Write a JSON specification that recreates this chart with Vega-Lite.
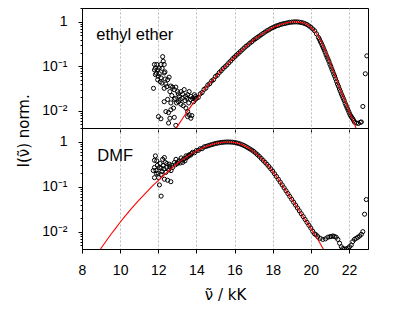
{
  "$schema": "https://vega.github.io/schema/vega-lite/v6.json",
  "padding": {"left": 15, "top": 0, "right": 5, "bottom": 5},
  "bounds": "flush",
  "spacing": 0,
  "config": {
    "view": {"stroke": "black", "strokeWidth": 1},
    "font": "Liberation Sans",
    "axis": {
      "domainColor": "black", "tickColor": "black", "labelColor": "black", "titleColor": "black",
      "labelFont": "Liberation Sans", "labelFontSize": 14, "titleFont": "DejaVu Sans",
      "titleFontSize": 15, "titleFontWeight": "normal",
      "gridColor": "#aaaaaa", "gridDash": [2, 2], "gridWidth": 0.8, "labelFlush": false
    }
  },
  "datasets": {
    "ether_pts": [
      {"nu": 11.75, "I": 0.032}, {"nu": 11.8, "I": 0.11}, {"nu": 11.85, "I": 0.091}, {"nu": 11.92, "I": 0.11},
      {"nu": 11.8, "I": 0.083}, {"nu": 11.97, "I": 0.083}, {"nu": 11.85, "I": 0.065}, {"nu": 12.05, "I": 0.091},
      {"nu": 12.14, "I": 0.11}, {"nu": 12.23, "I": 0.165}, {"nu": 12.26, "I": 0.13}, {"nu": 12.31, "I": 0.11},
      {"nu": 12.05, "I": 0.068}, {"nu": 12.14, "I": 0.055}, {"nu": 12.31, "I": 0.071}, {"nu": 11.97, "I": 0.05},
      {"nu": 12.19, "I": 0.042}, {"nu": 12.36, "I": 0.052}, {"nu": 12.49, "I": 0.05}, {"nu": 12.57, "I": 0.057},
      {"nu": 12.45, "I": 0.035}, {"nu": 12.31, "I": 0.032}, {"nu": 12.66, "I": 0.036}, {"nu": 12.75, "I": 0.034},
      {"nu": 12.61, "I": 0.027}, {"nu": 12.84, "I": 0.03}, {"nu": 12.92, "I": 0.034}, {"nu": 12.71, "I": 0.022},
      {"nu": 12.89, "I": 0.019}, {"nu": 13.01, "I": 0.027}, {"nu": 13.1, "I": 0.021}, {"nu": 13.19, "I": 0.027},
      {"nu": 13.27, "I": 0.024}, {"nu": 13.36, "I": 0.03}, {"nu": 13.45, "I": 0.021}, {"nu": 13.54, "I": 0.023},
      {"nu": 13.62, "I": 0.027}, {"nu": 13.71, "I": 0.021}, {"nu": 13.8, "I": 0.019}, {"nu": 13.89, "I": 0.023},
      {"nu": 13.94, "I": 0.018}, {"nu": 13.06, "I": 0.016}, {"nu": 13.19, "I": 0.014}, {"nu": 13.31, "I": 0.013},
      {"nu": 13.45, "I": 0.0115}, {"nu": 13.54, "I": 0.0096}, {"nu": 13.62, "I": 0.0081}, {"nu": 13.71, "I": 0.0068},
      {"nu": 13.54, "I": 0.0074}, {"nu": 13.76, "I": 0.0078}, {"nu": 12.4, "I": 0.0096}, {"nu": 12.54, "I": 0.0091},
      {"nu": 12.66, "I": 0.0105}, {"nu": 12.8, "I": 0.0115}, {"nu": 12.61, "I": 0.0068}, {"nu": 12.84, "I": 0.0071},
      {"nu": 12.01, "I": 0.0074}, {"nu": 12.14, "I": 0.0066}, {"nu": 12.54, "I": 0.0053}, {"nu": 12.92, "I": 0.0047},
      {"nu": 12.31, "I": 0.016}, {"nu": 12.49, "I": 0.018}, {"nu": 12.66, "I": 0.015}, {"nu": 12.84, "I": 0.018},
      {"nu": 12.96, "I": 0.015}, {"nu": 13.15, "I": 0.018}, {"nu": 13.4, "I": 0.017}, {"nu": 13.6, "I": 0.015},
      {"nu": 13.85, "I": 0.016}, {"nu": 13.7, "I": 0.018}, {"nu": 11.9, "I": 0.07}, {"nu": 12.0, "I": 0.06},
      {"nu": 12.1, "I": 0.045}, {"nu": 12.4, "I": 0.04}, {"nu": 12.2, "I": 0.09}, {"nu": 12.35, "I": 0.075},
      {"nu": 13.05, "I": 0.024}, {"nu": 13.25, "I": 0.019}, {"nu": 13.5, "I": 0.019}, {"nu": 13.95, "I": 0.021},
      {"nu": 14.0, "I": 0.0191}, {"nu": 14.1, "I": 0.02}, {"nu": 14.2, "I": 0.024}, {"nu": 14.3, "I": 0.0257},
      {"nu": 14.4, "I": 0.0302}, {"nu": 14.5, "I": 0.0324}, {"nu": 14.6, "I": 0.038}, {"nu": 14.7, "I": 0.0407},
      {"nu": 14.8, "I": 0.0468}, {"nu": 14.9, "I": 0.0501}, {"nu": 15.0, "I": 0.0589}, {"nu": 15.1, "I": 0.0631},
      {"nu": 15.2, "I": 0.0724}, {"nu": 15.3, "I": 0.0794}, {"nu": 15.4, "I": 0.0891}, {"nu": 15.5, "I": 0.0977},
      {"nu": 15.6, "I": 0.107}, {"nu": 15.7, "I": 0.12}, {"nu": 15.8, "I": 0.132}, {"nu": 15.9, "I": 0.148},
      {"nu": 16.0, "I": 0.162}, {"nu": 16.1, "I": 0.178}, {"nu": 16.2, "I": 0.195}, {"nu": 16.3, "I": 0.214},
      {"nu": 16.4, "I": 0.234}, {"nu": 16.5, "I": 0.257}, {"nu": 16.6, "I": 0.282}, {"nu": 16.7, "I": 0.302},
      {"nu": 16.8, "I": 0.331}, {"nu": 16.9, "I": 0.355}, {"nu": 17.0, "I": 0.389}, {"nu": 17.1, "I": 0.417},
      {"nu": 17.2, "I": 0.447}, {"nu": 17.3, "I": 0.479}, {"nu": 17.4, "I": 0.513}, {"nu": 17.5, "I": 0.55},
      {"nu": 17.6, "I": 0.589}, {"nu": 17.7, "I": 0.631}, {"nu": 17.8, "I": 0.661}, {"nu": 17.9, "I": 0.708},
      {"nu": 18.0, "I": 0.741}, {"nu": 18.1, "I": 0.776}, {"nu": 18.2, "I": 0.813}, {"nu": 18.3, "I": 0.832},
      {"nu": 18.4, "I": 0.871}, {"nu": 18.5, "I": 0.891}, {"nu": 18.6, "I": 0.912}, {"nu": 18.7, "I": 0.933},
      {"nu": 18.8, "I": 0.955}, {"nu": 18.9, "I": 0.977}, {"nu": 19.0, "I": 0.985}, {"nu": 19.1, "I": 0.995},
      {"nu": 19.2, "I": 1.0}, {"nu": 19.3, "I": 0.995}, {"nu": 19.4, "I": 0.986}, {"nu": 19.5, "I": 0.966},
      {"nu": 19.6, "I": 0.944}, {"nu": 19.7, "I": 0.908}, {"nu": 19.8, "I": 0.871}, {"nu": 19.9, "I": 0.813},
      {"nu": 20.0, "I": 0.759}, {"nu": 20.1, "I": 0.692}, {"nu": 20.2, "I": 0.631}, {"nu": 20.3, "I": 0.537},
      {"nu": 20.4, "I": 0.447}, {"nu": 20.45, "I": 0.407}, {"nu": 20.5, "I": 0.363}, {"nu": 20.55, "I": 0.331},
      {"nu": 20.6, "I": 0.295}, {"nu": 20.65, "I": 0.263}, {"nu": 20.7, "I": 0.234}, {"nu": 20.75, "I": 0.209},
      {"nu": 20.8, "I": 0.182}, {"nu": 20.85, "I": 0.162}, {"nu": 20.9, "I": 0.145}, {"nu": 20.95, "I": 0.129},
      {"nu": 21.0, "I": 0.112}, {"nu": 21.05, "I": 0.1}, {"nu": 21.1, "I": 0.0871}, {"nu": 21.15, "I": 0.0776},
      {"nu": 21.2, "I": 0.0676}, {"nu": 21.25, "I": 0.0603}, {"nu": 21.3, "I": 0.0525}, {"nu": 21.35, "I": 0.0457},
      {"nu": 21.4, "I": 0.0398}, {"nu": 21.45, "I": 0.0355}, {"nu": 21.5, "I": 0.0309}, {"nu": 21.55, "I": 0.0275},
      {"nu": 21.6, "I": 0.024}, {"nu": 21.65, "I": 0.0214}, {"nu": 21.7, "I": 0.0191}, {"nu": 21.75, "I": 0.017},
      {"nu": 21.8, "I": 0.0148}, {"nu": 21.85, "I": 0.0132}, {"nu": 21.9, "I": 0.0117}, {"nu": 21.95, "I": 0.0105},
      {"nu": 22.0, "I": 0.00933}, {"nu": 22.05, "I": 0.00832}, {"nu": 22.1, "I": 0.00759}, {"nu": 22.15, "I": 0.00708},
      {"nu": 22.2, "I": 0.00661}, {"nu": 22.25, "I": 0.00603}, {"nu": 22.3, "I": 0.0055}, {"nu": 22.4, "I": 0.0053},
      {"nu": 22.5, "I": 0.0052}, {"nu": 22.6, "I": 0.0055}, {"nu": 22.65, "I": 0.0056}, {"nu": 22.73, "I": 0.0125},
      {"nu": 22.86, "I": 0.068}, {"nu": 22.94, "I": 0.172}
    ],
    "ether_fit": [
      {"nu": 12.9, "I": 0.0038}, {"nu": 13.0, "I": 0.00447}, {"nu": 13.25, "I": 0.00646}, {"nu": 13.5, "I": 0.00933},
      {"nu": 13.75, "I": 0.0132}, {"nu": 14.0, "I": 0.0182}, {"nu": 14.25, "I": 0.0245}, {"nu": 14.5, "I": 0.0331},
      {"nu": 14.75, "I": 0.0437}, {"nu": 15.0, "I": 0.0575}, {"nu": 15.25, "I": 0.0759}, {"nu": 15.5, "I": 0.0977},
      {"nu": 15.75, "I": 0.126}, {"nu": 16.0, "I": 0.162}, {"nu": 16.25, "I": 0.204}, {"nu": 16.5, "I": 0.257},
      {"nu": 16.75, "I": 0.316}, {"nu": 17.0, "I": 0.389}, {"nu": 17.25, "I": 0.468}, {"nu": 17.5, "I": 0.55},
      {"nu": 17.75, "I": 0.646}, {"nu": 18.0, "I": 0.741}, {"nu": 18.25, "I": 0.822}, {"nu": 18.5, "I": 0.895},
      {"nu": 18.75, "I": 0.955}, {"nu": 19.0, "I": 0.991}, {"nu": 19.2, "I": 1.0}, {"nu": 19.4, "I": 0.986},
      {"nu": 19.6, "I": 0.944}, {"nu": 19.8, "I": 0.871}, {"nu": 20.0, "I": 0.759}, {"nu": 20.2, "I": 0.631},
      {"nu": 20.4, "I": 0.468}, {"nu": 20.6, "I": 0.316}, {"nu": 20.8, "I": 0.204}, {"nu": 21.0, "I": 0.126},
      {"nu": 21.2, "I": 0.0759}, {"nu": 21.4, "I": 0.0447}, {"nu": 21.6, "I": 0.0269}, {"nu": 21.8, "I": 0.0166},
      {"nu": 22.0, "I": 0.0102}, {"nu": 22.2, "I": 0.0063}, {"nu": 22.4, "I": 0.0038}
    ],
    "ether_lbl": [{"nu": 8.75, "I": 0.394, "label": "ethyl ether"}],
    "dmf_pts": [
      {"nu": 11.85, "I": 0.49}, {"nu": 11.8, "I": 0.39}, {"nu": 11.92, "I": 0.38}, {"nu": 11.74, "I": 0.23},
      {"nu": 11.88, "I": 0.23}, {"nu": 12.06, "I": 0.27}, {"nu": 12.23, "I": 0.41}, {"nu": 12.32, "I": 0.45},
      {"nu": 12.37, "I": 0.35}, {"nu": 12.15, "I": 0.19}, {"nu": 11.8, "I": 0.16}, {"nu": 12.02, "I": 0.16},
      {"nu": 12.06, "I": 0.11}, {"nu": 12.32, "I": 0.148}, {"nu": 12.49, "I": 0.14}, {"nu": 12.15, "I": 0.062},
      {"nu": 12.44, "I": 0.27}, {"nu": 12.58, "I": 0.32}, {"nu": 12.67, "I": 0.23}, {"nu": 12.85, "I": 0.35},
      {"nu": 12.93, "I": 0.41}, {"nu": 13.1, "I": 0.38}, {"nu": 13.2, "I": 0.44}, {"nu": 13.28, "I": 0.35},
      {"nu": 13.46, "I": 0.49}, {"nu": 13.63, "I": 0.52}, {"nu": 12.6, "I": 0.28}, {"nu": 12.7, "I": 0.3},
      {"nu": 12.75, "I": 0.27}, {"nu": 12.9, "I": 0.31}, {"nu": 13.0, "I": 0.33}, {"nu": 13.05, "I": 0.36},
      {"nu": 13.15, "I": 0.34}, {"nu": 13.3, "I": 0.4}, {"nu": 13.35, "I": 0.42}, {"nu": 13.4, "I": 0.38},
      {"nu": 13.5, "I": 0.45}, {"nu": 13.55, "I": 0.47}, {"nu": 13.6, "I": 0.5}, {"nu": 13.7, "I": 0.51},
      {"nu": 13.75, "I": 0.55}, {"nu": 12.2, "I": 0.22}, {"nu": 12.3, "I": 0.25}, {"nu": 12.4, "I": 0.21},
      {"nu": 12.55, "I": 0.24}, {"nu": 11.95, "I": 0.3}, {"nu": 12.1, "I": 0.33}, {"nu": 12.0, "I": 0.2},
      {"nu": 11.8, "I": 0.27}, {"nu": 12.25, "I": 0.3}, {"nu": 12.45, "I": 0.33}, {"nu": 12.15, "I": 0.26},
      {"nu": 11.9, "I": 0.2}, {"nu": 12.66, "I": 0.13},
      {"nu": 13.8, "I": 0.589}, {"nu": 13.9, "I": 0.575}, {"nu": 14.0, "I": 0.646}, {"nu": 14.1, "I": 0.646},
      {"nu": 14.2, "I": 0.708}, {"nu": 14.3, "I": 0.708}, {"nu": 14.4, "I": 0.776}, {"nu": 14.5, "I": 0.794},
      {"nu": 14.6, "I": 0.82}, {"nu": 14.7, "I": 0.847}, {"nu": 14.8, "I": 0.873}, {"nu": 14.9, "I": 0.898},
      {"nu": 15.0, "I": 0.923}, {"nu": 15.1, "I": 0.942}, {"nu": 15.2, "I": 0.959}, {"nu": 15.3, "I": 0.975},
      {"nu": 15.4, "I": 0.986}, {"nu": 15.5, "I": 0.995}, {"nu": 15.6, "I": 1.0}, {"nu": 15.7, "I": 0.998},
      {"nu": 15.8, "I": 0.995}, {"nu": 15.9, "I": 0.989}, {"nu": 16.0, "I": 0.973}, {"nu": 16.1, "I": 0.955},
      {"nu": 16.2, "I": 0.929}, {"nu": 16.3, "I": 0.902}, {"nu": 16.4, "I": 0.867}, {"nu": 16.5, "I": 0.832},
      {"nu": 16.6, "I": 0.787}, {"nu": 16.7, "I": 0.745}, {"nu": 16.8, "I": 0.702}, {"nu": 16.9, "I": 0.661},
      {"nu": 17.0, "I": 0.617}, {"nu": 17.1, "I": 0.568}, {"nu": 17.2, "I": 0.522}, {"nu": 17.3, "I": 0.476},
      {"nu": 17.4, "I": 0.431}, {"nu": 17.5, "I": 0.389}, {"nu": 17.6, "I": 0.352}, {"nu": 17.7, "I": 0.318},
      {"nu": 17.8, "I": 0.284}, {"nu": 17.9, "I": 0.252}, {"nu": 18.0, "I": 0.224}, {"nu": 18.1, "I": 0.195},
      {"nu": 18.2, "I": 0.17}, {"nu": 18.3, "I": 0.147}, {"nu": 18.4, "I": 0.127}, {"nu": 18.5, "I": 0.11},
      {"nu": 18.6, "I": 0.0946}, {"nu": 18.7, "I": 0.0817}, {"nu": 18.8, "I": 0.0705}, {"nu": 18.9, "I": 0.0608},
      {"nu": 19.0, "I": 0.0525}, {"nu": 19.1, "I": 0.0453}, {"nu": 19.2, "I": 0.0391}, {"nu": 19.3, "I": 0.0337},
      {"nu": 19.4, "I": 0.0291}, {"nu": 19.5, "I": 0.0251}, {"nu": 19.6, "I": 0.0217}, {"nu": 19.7, "I": 0.0187},
      {"nu": 19.8, "I": 0.0161}, {"nu": 19.9, "I": 0.0139}, {"nu": 20.0, "I": 0.012}, {"nu": 20.1, "I": 0.0102},
      {"nu": 20.2, "I": 0.0089}, {"nu": 20.28, "I": 0.0085}, {"nu": 20.37, "I": 0.0077}, {"nu": 20.49, "I": 0.0071},
      {"nu": 20.63, "I": 0.0067}, {"nu": 20.77, "I": 0.0069}, {"nu": 20.89, "I": 0.0075}, {"nu": 21.0, "I": 0.0077},
      {"nu": 21.07, "I": 0.0078}, {"nu": 21.16, "I": 0.008}, {"nu": 21.24, "I": 0.0078}, {"nu": 21.33, "I": 0.0075},
      {"nu": 21.42, "I": 0.0067}, {"nu": 21.51, "I": 0.0055}, {"nu": 21.6, "I": 0.0046}, {"nu": 21.68, "I": 0.0042},
      {"nu": 21.77, "I": 0.0041}, {"nu": 21.86, "I": 0.0041}, {"nu": 21.95, "I": 0.0043}, {"nu": 22.03, "I": 0.0046},
      {"nu": 22.12, "I": 0.005}, {"nu": 22.2, "I": 0.006}, {"nu": 22.29, "I": 0.0067}, {"nu": 22.38, "I": 0.0071},
      {"nu": 22.47, "I": 0.0075}, {"nu": 22.56, "I": 0.008}, {"nu": 22.65, "I": 0.0087}, {"nu": 22.73, "I": 0.01},
      {"nu": 22.82, "I": 0.0245}, {"nu": 22.91, "I": 0.052}
    ],
    "dmf_fit": [
      {"nu": 8.9, "I": 0.00363}, {"nu": 9.0, "I": 0.00427}, {"nu": 9.25, "I": 0.00603}, {"nu": 9.5, "I": 0.00851},
      {"nu": 9.75, "I": 0.0117}, {"nu": 10.0, "I": 0.0162}, {"nu": 10.25, "I": 0.0219}, {"nu": 10.5, "I": 0.0295},
      {"nu": 10.75, "I": 0.0389}, {"nu": 11.0, "I": 0.0513}, {"nu": 11.25, "I": 0.0661}, {"nu": 11.5, "I": 0.0851},
      {"nu": 11.75, "I": 0.11}, {"nu": 12.0, "I": 0.138}, {"nu": 12.25, "I": 0.174}, {"nu": 12.5, "I": 0.219},
      {"nu": 12.75, "I": 0.269}, {"nu": 13.0, "I": 0.331}, {"nu": 13.25, "I": 0.398}, {"nu": 13.5, "I": 0.468},
      {"nu": 13.75, "I": 0.55}, {"nu": 14.0, "I": 0.631}, {"nu": 14.25, "I": 0.708}, {"nu": 14.5, "I": 0.794},
      {"nu": 14.75, "I": 0.861}, {"nu": 15.0, "I": 0.923}, {"nu": 15.25, "I": 0.968}, {"nu": 15.5, "I": 0.995},
      {"nu": 15.7, "I": 1.0}, {"nu": 15.9, "I": 0.989}, {"nu": 16.1, "I": 0.955}, {"nu": 16.3, "I": 0.902},
      {"nu": 16.5, "I": 0.832}, {"nu": 16.75, "I": 0.724}, {"nu": 17.0, "I": 0.617}, {"nu": 17.25, "I": 0.501},
      {"nu": 17.5, "I": 0.389}, {"nu": 17.75, "I": 0.302}, {"nu": 18.0, "I": 0.224}, {"nu": 18.25, "I": 0.158},
      {"nu": 18.5, "I": 0.11}, {"nu": 18.75, "I": 0.0759}, {"nu": 19.0, "I": 0.0525}, {"nu": 19.25, "I": 0.0363},
      {"nu": 19.5, "I": 0.0251}, {"nu": 19.75, "I": 0.0174}, {"nu": 20.0, "I": 0.012}, {"nu": 20.25, "I": 0.00813},
      {"nu": 20.5, "I": 0.00537}, {"nu": 20.75, "I": 0.00347}
    ],
    "dmf_lbl": [{"nu": 8.8, "I": 0.382, "label": "DMF"}]
  },
  "vconcat": [
    {
      "width": 286,
      "height": 120,
      "encoding": {
        "x": {"field": "nu", "type": "quantitative", "scale": {"domain": [8, 23], "nice": false},
          "axis": {"values": [8, 10, 12, 14, 16, 18, 20, 22], "labels": false, "title": null, "tickSize": 4, "grid": true}},
        "y": {"field": "I", "type": "quantitative", "scale": {"type": "log", "domain": [0.0041, 2.05], "nice": false},
          "axis": {
            "values": [0.005, 0.006, 0.007, 0.008, 0.009, 0.01, 0.02, 0.03, 0.04, 0.05, 0.06, 0.07, 0.08, 0.09, 0.1, 0.2, 0.3, 0.4, 0.5, 0.6, 0.7, 0.8, 0.9, 1, 2],
            "labelExpr": "datum.value == 1 ? '1' : (datum.value == 0.1 ? '10⁻¹' : (datum.value == 0.01 ? '10⁻²' : ''))",
            "tickSize": {"condition": {"test": "datum.value == 1 || datum.value == 0.1 || datum.value == 0.01", "value": 4}, "value": 2},
            "labelPadding": 11, "labelOverlap": false, "grid": false,
            "title": "I(ν̃) norm.", "titleX": -54, "titleY": 159, "titleAlign": "left", "titleAnchor": null, "titleBaseline": "alphabetic"
          }}
      },
      "layer": [
        {"data": {"name": "ether_pts"}, "mark": {"type": "point", "shape": "circle", "filled": false, "color": "black", "size": 17, "strokeWidth": 1, "opacity": 1, "clip": true}},
        {"data": {"name": "ether_fit"}, "mark": {"type": "line", "color": "red", "strokeWidth": 1.1, "clip": true}},
        {"data": {"name": "ether_lbl"}, "mark": {"type": "text", "align": "left", "baseline": "alphabetic", "fontSize": 16.5, "font": "Liberation Sans", "color": "black"},
          "encoding": {"text": {"field": "label"}}}
      ]
    },
    {
      "width": 286,
      "height": 121,
      "encoding": {
        "x": {"field": "nu", "type": "quantitative", "scale": {"domain": [8, 23], "nice": false},
          "axis": {"values": [8, 10, 12, 14, 16, 18, 20, 22], "title": "ν̃  /  kK", "tickSize": 4, "labelPadding": 10, "titlePadding": 10, "grid": true}},
        "y": {"field": "I", "type": "quantitative", "scale": {"type": "log", "domain": [0.0041, 2.05], "nice": false},
          "axis": {
            "values": [0.005, 0.006, 0.007, 0.008, 0.009, 0.01, 0.02, 0.03, 0.04, 0.05, 0.06, 0.07, 0.08, 0.09, 0.1, 0.2, 0.3, 0.4, 0.5, 0.6, 0.7, 0.8, 0.9, 1, 2],
            "labelExpr": "datum.value == 1 ? '1' : (datum.value == 0.1 ? '10⁻¹' : (datum.value == 0.01 ? '10⁻²' : ''))",
            "tickSize": {"condition": {"test": "datum.value == 1 || datum.value == 0.1 || datum.value == 0.01", "value": 4}, "value": 2},
            "labelPadding": 11, "labelOverlap": false, "grid": false, "title": null
          }}
      },
      "layer": [
        {"data": {"name": "dmf_pts"}, "mark": {"type": "point", "shape": "circle", "filled": false, "color": "black", "size": 17, "strokeWidth": 1, "opacity": 1, "clip": true}},
        {"data": {"name": "dmf_fit"}, "mark": {"type": "line", "color": "red", "strokeWidth": 1.1, "clip": true}},
        {"data": {"name": "dmf_lbl"}, "mark": {"type": "text", "align": "left", "baseline": "alphabetic", "fontSize": 16.5, "font": "Liberation Sans", "color": "black"},
          "encoding": {"text": {"field": "label"}}}
      ]
    }
  ]
}
